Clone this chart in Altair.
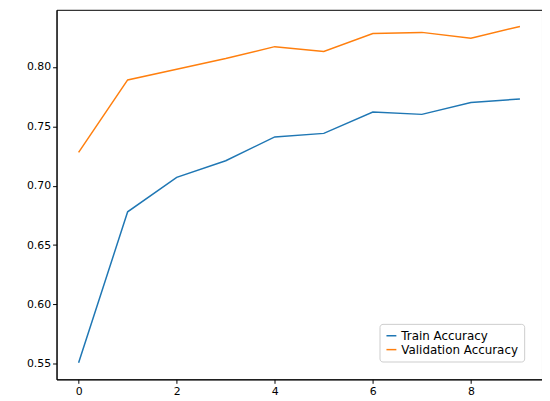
import altair as alt
import pandas as pd

epochs = list(range(10))
train_acc = [0.551, 0.678, 0.707, 0.721, 0.741, 0.744, 0.762, 0.760, 0.770, 0.773]
val_acc = [0.728, 0.789, 0.798, 0.807, 0.817, 0.813, 0.828, 0.829, 0.824, 0.834]
series = ["Train Accuracy", "Validation Accuracy"]

df = pd.concat([
    pd.DataFrame({"epoch": epochs, "acc": train_acc, "series": series[0]}),
    pd.DataFrame({"epoch": epochs, "acc": val_acc, "series": series[1]}),
])

chart = alt.Chart(df).mark_line(strokeWidth=1.5).encode(
    x=alt.X("epoch:Q", title=None,
            scale=alt.Scale(domain=[-0.45, 9.45], nice=False, zero=False),
            axis=alt.Axis(values=[0, 2, 4, 6, 8], grid=False, format="d")),
    y=alt.Y("acc:Q", title=None,
            scale=alt.Scale(domain=[0.537, 0.848], nice=False, zero=False),
            axis=alt.Axis(values=[0.55, 0.6, 0.65, 0.7, 0.75, 0.8], grid=False, format=".2f")),
    color=alt.Color("series:N", scale=alt.Scale(domain=series, range=["#1f77b4", "#ff7f0e"]),
                    legend=alt.Legend(title=None, orient="bottom-right", symbolType="stroke",
                                      labelFontSize=12, fillColor="white", strokeColor="#ccc",
                                      padding=6, cornerRadius=3, symbolStrokeWidth=1.5)),
).properties(
    width=490, height=373,
    padding={"left": 18, "top": 0, "right": 0, "bottom": 0}
).configure_view(
    stroke="black", strokeWidth=1
).configure_axis(
    labelFont="DejaVu Sans", labelFontSize=11, labelColor="black",
    domainColor="black", tickColor="black", tickSize=4
).configure_legend(labelFont="DejaVu Sans")

chart.save("out.html", embed_options={"renderer": "svg", "actions": False})
